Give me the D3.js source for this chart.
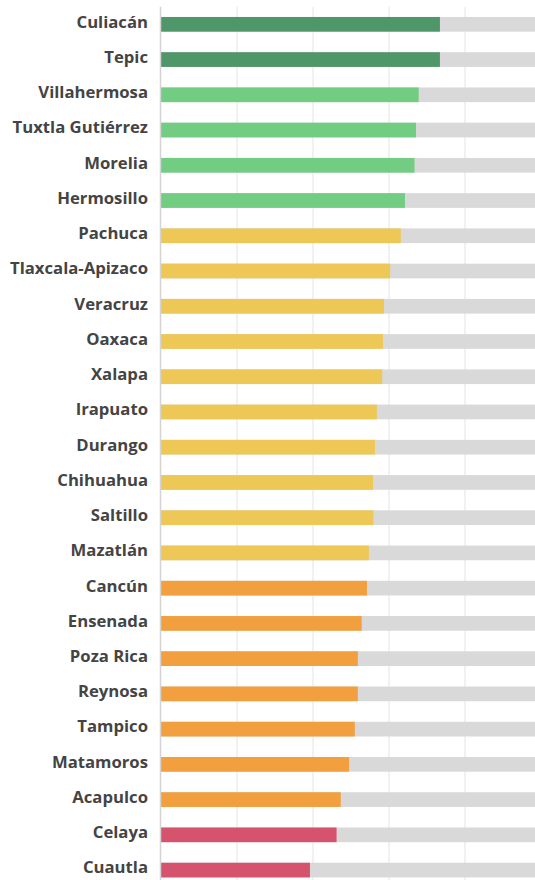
<!DOCTYPE html>
<html>
<head>
<meta charset="utf-8">
<script src="https://cdn.jsdelivr.net/npm/d3@7"></script>
<style>
  html, body { margin: 0; padding: 0; background: #fff; }
  .label { font-family: "Open Sans", sans-serif; font-weight: 700; font-size: 16.7px; fill: #444; }
</style>
</head>
<body>
<div id="chart"></div>
<script>
// cities, top to bottom
var cities = ["Culiacán", "Tepic", "Villahermosa", "Tuxtla Gutiérrez", "Morelia", "Hermosillo",
  "Pachuca", "Tlaxcala-Apizaco", "Veracruz", "Oaxaca", "Xalapa", "Irapuato", "Durango",
  "Chihuahua", "Saltillo", "Mazatlán", "Cancún", "Ensenada", "Poza Rica", "Reynosa",
  "Tampico", "Matamoros", "Acapulco", "Celaya", "Cuautla"];

var values = [73.4, 73.4, 67.8, 67.1, 66.7, 64.2,
  63.1, 60.3, 58.7, 58.4, 58.2, 56.8, 56.3,
  55.8, 55.9, 54.7, 54.2, 52.8, 51.8, 51.8,
  51.0, 49.5, 47.3, 46.2, 39.2];

// colour group of each city
var levels = [1, 1, 2, 2, 2, 2,
  3, 3, 3, 3, 3, 3, 3,
  3, 3, 3, 4, 4, 4, 4,
  4, 4, 4, 5, 5];

var ticks = [0, 20, 40, 60, 80, 100];
var maxValue = 100;

var width = 535, height = 880;
var marginLeft = 161, marginTop = 6.7, step = 35.24;

var svg = d3.select("#chart").append("svg")
  .attr("width", width)
  .attr("height", height);

var xScale = d3.scaleLinear().domain([0, maxValue]).range([marginLeft, marginLeft + 380]);
var pad = 0.583;
var yScale = d3.scaleBand()
  .domain(cities)
  .range([marginTop, marginTop + cities.length * step])
  .paddingInner(pad)
  .paddingOuter(pad / 2);

var colorScale = d3.scaleOrdinal()
  .domain([1, 2, 3, 4, 5])
  .range(["#4f9669", "#72cc82", "#edc856", "#f29f3f", "#d6536d"]);

var data = cities.map(function(c, i) { return { city: c, value: values[i], level: levels[i] }; });

// gridlines
svg.append("g")
  .selectAll("line")
  .data(ticks.slice(1))
  .enter().append("line")
    .attr("x1", function(d) { return xScale(d); })
    .attr("x2", function(d) { return xScale(d); })
    .attr("y1", marginTop)
    .attr("y2", height)
    .attr("stroke", "#e8e8e8")
    .attr("stroke-width", 1.2);

// grey tracks
svg.append("g")
  .selectAll("rect")
  .data(data)
  .enter().append("rect")
    .attr("x", xScale(0))
    .attr("y", function(d) { return yScale(d.city); })
    .attr("width", xScale(maxValue) - xScale(0))
    .attr("height", yScale.bandwidth())
    .attr("fill", "#d9d9d9");

// bars
svg.append("g")
  .selectAll("rect")
  .data(data)
  .enter().append("rect")
    .attr("x", xScale(0))
    .attr("y", function(d) { return yScale(d.city); })
    .attr("width", function(d) { return xScale(d.value) - xScale(0); })
    .attr("height", yScale.bandwidth())
    .attr("fill", function(d) { return colorScale(d.level); });

// axis line
svg.append("line")
  .attr("x1", xScale(0) - 0.5)
  .attr("x2", xScale(0) - 0.5)
  .attr("y1", marginTop)
  .attr("y2", height)
  .attr("stroke", "#d4d4d4")
  .attr("stroke-width", 1.5);

// labels
svg.append("g")
  .selectAll("text")
  .data(data)
  .enter().append("text")
    .attr("class", "label")
    .attr("x", 148)
    .attr("y", function(d) { return yScale(d.city) + yScale.bandwidth() / 2; })
    .attr("dy", "0.2em")
    .attr("text-anchor", "end")
    .text(function(d) { return d.city; });
</script>
</body>
</html>
